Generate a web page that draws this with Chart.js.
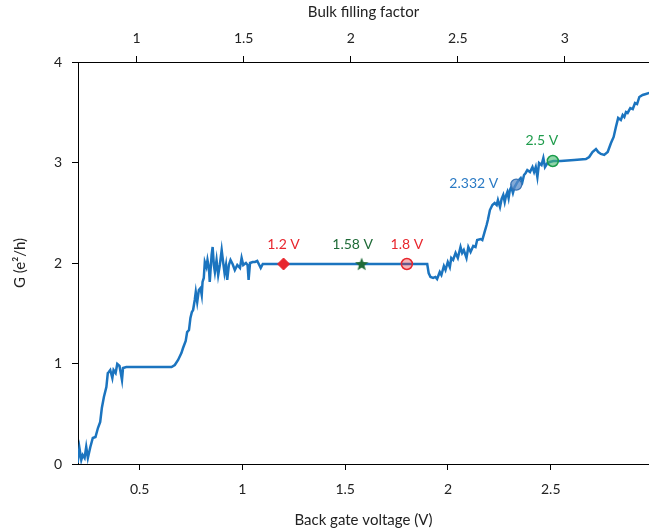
<!DOCTYPE html>
<html lang="en">
<head>
  <meta charset="UTF-8" />
  <title>Conductance vs back gate voltage</title>
  <script src="https://cdn.jsdelivr.net/npm/chart.js"></script>
  <style>
    html, body { margin: 0; padding: 0; background: #fff; overflow: hidden; }
    #wrap { width: 649px; height: 531px; }
  </style>
</head>
<body>
  <div id="wrap"><canvas id="gChart"></canvas></div>

  <script>
    // trace: back gate voltage (V) and G (e^2/h)
    const voltage = [
      0.198, 0.207, 0.216, 0.223, 0.232, 0.240, 0.248, 0.260, 0.272, 0.285,
      0.297, 0.308, 0.316, 0.326, 0.338, 0.345, 0.350, 0.357, 0.367, 0.373,
      0.383, 0.391, 0.402, 0.414, 0.419, 0.435, 0.655, 0.671, 0.687, 0.703,
      0.711, 0.724, 0.731, 0.740, 0.747, 0.754, 0.760, 0.768, 0.773, 0.780,
      0.788, 0.796, 0.802, 0.806, 0.812, 0.817, 0.825, 0.830, 0.837, 0.841,
      0.850, 0.855, 0.861, 0.866, 0.874, 0.882, 0.890, 0.899, 0.906, 0.913,
      0.920, 0.926, 0.934, 0.942, 0.952, 0.963, 0.975, 0.988, 0.996, 1.004,
      1.017, 1.025, 1.030, 1.037, 1.050, 1.061, 1.072, 1.082, 1.089, 1.099,
      1.118, 1.899, 1.906, 1.915, 1.928, 1.939, 1.947, 1.960, 1.968, 1.980,
      1.988, 1.999, 2.009, 2.016, 2.025, 2.037, 2.048, 2.061, 2.069, 2.077,
      2.090, 2.099, 2.110, 2.123, 2.134, 2.142, 2.159, 2.167, 2.178, 2.188,
      2.194, 2.204, 2.216, 2.227, 2.237, 2.243, 2.253, 2.261, 2.269, 2.276,
      2.282, 2.289, 2.295, 2.301, 2.308, 2.316, 2.324, 2.338, 2.345, 2.354,
      2.362, 2.370, 2.378, 2.386, 2.399, 2.411, 2.419, 2.427, 2.435, 2.443,
      2.455, 2.464, 2.472, 2.484, 2.495, 2.513, 2.549, 2.614, 2.671, 2.687,
      2.703, 2.720, 2.731, 2.744, 2.760, 2.777, 2.793, 2.806, 2.817, 2.828,
      2.841, 2.850, 2.858, 2.866, 2.874, 2.887, 2.899, 2.910, 2.920, 2.931,
      2.947, 2.963, 2.980
    ];
    const conductance = [
      0.010, 0.159, 0.040, 0.090, 0.060, 0.169, 0.060, 0.169, 0.259, 0.269,
      0.358, 0.418, 0.557, 0.667, 0.766, 0.905, 0.915, 0.935, 0.856, 0.935,
      0.905, 0.995, 0.975, 0.836, 0.955, 0.965, 0.965, 0.985, 1.035, 1.104,
      1.154, 1.224, 1.313, 1.333, 1.453, 1.512, 1.532, 1.632, 1.711, 1.612,
      1.731, 1.751, 1.682, 1.811, 1.851, 2.010, 1.960, 2.030, 1.950, 1.811,
      2.080, 2.159, 1.980, 1.910, 2.030, 1.881, 1.980, 2.129, 2.010, 1.900,
      1.980, 1.831, 1.980, 2.030, 1.990, 1.930, 1.980, 1.950, 2.050, 1.980,
      2.000, 1.980, 1.831, 2.000, 2.010, 2.010, 2.020, 1.980, 1.950, 1.990,
      1.990, 1.990, 1.900, 1.861, 1.851, 1.861, 1.841, 1.910, 1.881, 1.970,
      1.930, 2.010, 1.960, 2.050, 2.030, 2.100, 2.050, 2.159, 2.100, 2.129,
      2.050, 2.159, 2.109, 2.169, 2.159, 2.229, 2.239, 2.229, 2.308, 2.378,
      2.428, 2.527, 2.577, 2.597, 2.577, 2.627, 2.557, 2.637, 2.677, 2.607,
      2.667, 2.706, 2.647, 2.726, 2.756, 2.697, 2.756, 2.806, 2.826, 2.846,
      2.806, 2.876, 2.896, 2.925, 2.905, 2.955, 2.905, 2.955, 2.856, 2.995,
      2.975, 3.045, 2.955, 2.995, 3.005, 3.015, 3.015, 3.025, 3.035, 3.055,
      3.104, 3.134, 3.104, 3.085, 3.075, 3.104, 3.194, 3.254, 3.353, 3.443,
      3.423, 3.473, 3.453, 3.502, 3.493, 3.542, 3.532, 3.592, 3.582, 3.652,
      3.672, 3.682, 3.692
    ];

    // highlighted gate voltages
    const markerLabels = ['1.2 V', '1.58 V', '1.8 V', '2.332 V', '2.5 V'];
    const markerV = [1.2, 1.58, 1.8, 2.332, 2.51];
    const markerG = [1.99, 1.99, 1.99, 2.78, 3.015];

    const vTicks = [0.5, 1, 1.5, 2, 2.5];
    const fillingTicks = [1, 1.5, 2, 2.5, 3];
    const gTicks = [0, 1, 2, 3, 4];

    const FONT = 'Lato, "Open Sans", sans-serif';
    const RED = '#e8262d';

    // filled star for the 1.58 V marker
    function starImage(size, color) {
      const c = document.createElement('canvas');
      c.width = size; c.height = size;
      const ctx = c.getContext('2d');
      const cx = size / 2, cy = size / 2 + 0.5, R = size / 2, r = R * 0.42;
      ctx.beginPath();
      for (let i = 0; i < 10; i++) {
        const rad = i % 2 ? r : R;
        const a = -Math.PI / 2 + i * Math.PI / 5;
        ctx.lineTo(cx + rad * Math.cos(a), cy + rad * Math.sin(a));
      }
      ctx.closePath();
      ctx.fillStyle = color;
      ctx.fill();
      return c;
    }

    const markerStyles = [
      { pointStyle: 'rectRot', radius: 6, bg: RED, border: RED, bw: 1, color: RED, dx: 0, dy: -20, align: 'center' },
      { pointStyle: starImage(14, '#1f6b38'), radius: 7, bg: '#1f6b38', border: '#1f6b38', bw: 0, color: '#1f6b38', dx: -9, dy: -20, align: 'center' },
      { pointStyle: 'circle', radius: 5.5, bg: 'rgba(232,38,45,0.35)', border: RED, bw: 1.5, color: RED, dx: 0, dy: -20, align: 'center' },
      { pointStyle: 'circle', radius: 5.5, bg: 'rgba(90,140,200,0.75)', border: '#3a73b3', bw: 1.2, color: '#2a7ac4', dx: -18, dy: -1, align: 'right' },
      { pointStyle: 'circle', radius: 5.5, bg: 'rgba(70,185,110,0.6)', border: '#1a9c4a', bw: 1.5, color: '#1f9c4c', dx: -11, dy: -21, align: 'center' }
    ];

    const markerSets = markerV.map((v, i) => {
      const s = markerStyles[i];
      return {
        label: markerLabels[i],
        data: [{ x: v, y: markerG[i] }],
        showLine: false,
        pointStyle: s.pointStyle,
        pointRadius: s.radius,
        pointHoverRadius: s.radius,
        pointBackgroundColor: s.bg,
        pointBorderColor: s.border,
        pointBorderWidth: s.bw,
        order: 0
      };
    });

    const markerText = {
      id: 'markerText',
      afterDatasetsDraw(chart) {
        const { ctx, scales } = chart;
        ctx.save();
        ctx.font = '14px ' + FONT;
        ctx.textBaseline = 'middle';
        markerV.forEach((v, i) => {
          const s = markerStyles[i];
          ctx.fillStyle = s.color;
          ctx.textAlign = s.align;
          ctx.fillText(markerLabels[i], scales.x.getPixelForValue(v) + s.dx, scales.y.getPixelForValue(markerG[i]) + s.dy);
        });
        ctx.restore();
      }
    };

    const axisGrid = { display: true, drawOnChartArea: false, drawTicks: true, tickLength: 6, color: '#000', lineWidth: 1 };
    const axisBorder = { display: true, color: '#000', width: 1 };
    const tickFont = { family: FONT, size: 14 };
    const plain = v => String(v);

    new Chart(document.getElementById('gChart'), {
      type: 'line',
      data: {
        datasets: [
          ...markerSets,
          {
            label: 'G',
            data: voltage.map((v, i) => ({ x: v, y: conductance[i] })),
            borderColor: '#1b74bf',
            borderWidth: 2.5,
            pointRadius: 0,
            tension: 0,
            fill: false,
            order: 1
          }
        ]
      },
      options: {
        responsive: true,
        maintainAspectRatio: false,
        animation: false,
        layout: { autoPadding: false, padding: 0 },
        plugins: { legend: { display: false }, tooltip: { enabled: false } },
        scales: {
          x: {
            type: 'linear',
            position: 'bottom',
            min: 0.2,
            max: 2.978,
            afterBuildTicks: s => { s.ticks = vTicks.map(v => ({ value: v })); },
            afterFit: s => { s.height = 67; },
            ticks: { font: tickFont, color: '#222', padding: 11, maxRotation: 0, callback: plain },
            grid: axisGrid,
            border: axisBorder,
            title: { display: true, text: 'Back gate voltage (V)', font: { family: FONT, size: 15 }, color: '#222', padding: { top: 0, bottom: 2 } }
          },
          x2: {
            type: 'linear',
            position: 'top',
            min: 0.726,
            max: 3.393,
            afterBuildTicks: s => { s.ticks = fillingTicks.map(v => ({ value: v })); },
            afterFit: s => { s.height = 62; },
            ticks: { font: tickFont, color: '#222', padding: 9, maxRotation: 0, callback: plain },
            grid: axisGrid,
            border: axisBorder,
            title: { display: true, text: 'Bulk filling factor', font: { family: FONT, size: 15 }, color: '#222', padding: { top: 3, bottom: 0 } }
          },
          y: {
            type: 'linear',
            min: 0,
            max: 4,
            afterBuildTicks: s => { s.ticks = gTicks.map(v => ({ value: v })); },
            afterFit: s => { s.width = 78; },
            ticks: { font: tickFont, color: '#222', padding: 10, callback: plain },
            grid: axisGrid,
            border: axisBorder,
            title: { display: true, text: 'G (e\u00b2/h)', font: { family: FONT, size: 15 }, color: '#222', padding: { top: 11, bottom: 0 } }
          }
        }
      },
      plugins: [markerText]
    });
  </script>
</body>
</html>
